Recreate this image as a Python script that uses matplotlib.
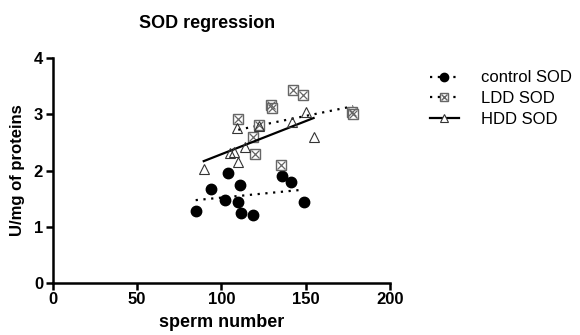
import numpy as np
import matplotlib.pyplot as plt
from matplotlib.legend_handler import HandlerTuple

plt.rcParams['font.family'] = ['Liberation Sans', 'DejaVu Sans']

# control SOD
ctrl_x = [84.8, 93.7, 103.8, 102.2, 111.1, 110.1, 111.7, 118.8, 135.8, 141.3, 148.9]
ctrl_y = [1.28, 1.67, 1.96, 1.47, 1.75, 1.43, 1.245, 1.21, 1.905, 1.80, 1.435]
# LDD SOD
ldd_x = [110.1, 122.4, 118.6, 120.2, 129.5, 130.0, 142.3, 148.3, 135.2, 177.3, 178.3]
ldd_y = [2.92, 2.82, 2.60, 2.30, 3.17, 3.12, 3.43, 3.34, 2.10, 3.04, 3.00]
# HDD SOD
hdd_x = [89.6, 109.5, 105.2, 107.5, 109.7, 114.1, 141.8, 150.1, 154.8, 122.4]
hdd_y = [2.03, 2.75, 2.32, 2.33, 2.15, 2.42, 2.87, 3.05, 2.59, 2.80]


def fit_line(x, y):
    '''recta de regresion sobre el rango de x'''
    m, n = np.polyfit(x, y, 1)
    xs = np.array([min(x), max(x)])
    return xs, m * xs + n


fig = plt.figure(figsize=(5.8, 3.35), dpi=100)
ax = fig.add_axes([0.091, 0.156, 0.581, 0.67])

gris = '#666666'
punteado = (0, (1, 2.5))

# control
xs, ys = fit_line(ctrl_x, ctrl_y)
ax.plot(xs, ys, color='black', lw=1.6, ls=punteado)
ax.plot(ctrl_x, ctrl_y, 'o', color='black', ms=7.5, ls='none')

# LDD
xs, ys = fit_line(ldd_x, ldd_y)
ax.plot(xs, ys, color='black', lw=1.6, ls=punteado)
ax.plot(ldd_x, ldd_y, 's', mfc='white', mec=gris, ms=7.5, mew=1.0, ls='none')
ax.plot(ldd_x, ldd_y, 'x', color=gris, ms=5.5, mew=0.9, ls='none')

# HDD
xs, ys = fit_line(hdd_x, hdd_y)
ax.plot(xs, ys, color='black', lw=1.6)
ax.plot(hdd_x, hdd_y, '^', mfc='none', mec='#333333', ms=7.5, mew=0.8, ls='none')

ax.set_xlim(0, 200)
ax.set_ylim(0, 4)
ax.set_xticks([0, 50, 100, 150, 200])
ax.set_yticks([0, 1, 2, 3, 4])
for s in ['top', 'right']:
    ax.spines[s].set_visible(False)
for s in ['left', 'bottom']:
    ax.spines[s].set_linewidth(1.8)
ax.tick_params(width=1.8, length=5, labelsize=12, pad=2)
for lab in ax.get_xticklabels() + ax.get_yticklabels():
    lab.set_fontweight('bold')

ax.set_xlabel('sperm number', fontsize=13, fontweight='bold', labelpad=5)
ax.set_ylabel('U/mg of proteins', fontsize=12, fontweight='bold', labelpad=6)
fig.text(0.357, 0.93, 'SOD regression', fontsize=13, fontweight='bold',
         ha='center', va='center')

# leyenda
h1, = ax.plot([], [], color='black', lw=1.6, ls=punteado, marker='o', ms=6)
h2a, = ax.plot([], [], color='black', lw=1.6, ls=punteado, marker='s', mfc='white', mec=gris, ms=6)
h2b, = ax.plot([], [], 'x', color=gris, ms=4.5, ls='none')
h3, = ax.plot([], [], color='black', lw=1.6, marker='^', mfc='white', mec='#333333', ms=6, mew=0.8)
leg = fig.legend([h1, (h2a, h2b), h3], ['control SOD', 'LDD SOD', 'HDD SOD'],
                 handler_map={tuple: HandlerTuple(ndivide=1, pad=0)},
                 loc='upper left', bbox_to_anchor=(0.735, 0.80), frameon=False,
                 fontsize=12, handlelength=1.75, handletextpad=1.35, labelspacing=0.35,
                 borderaxespad=0, borderpad=0.2)

fig.savefig('out.png', dpi=100)
